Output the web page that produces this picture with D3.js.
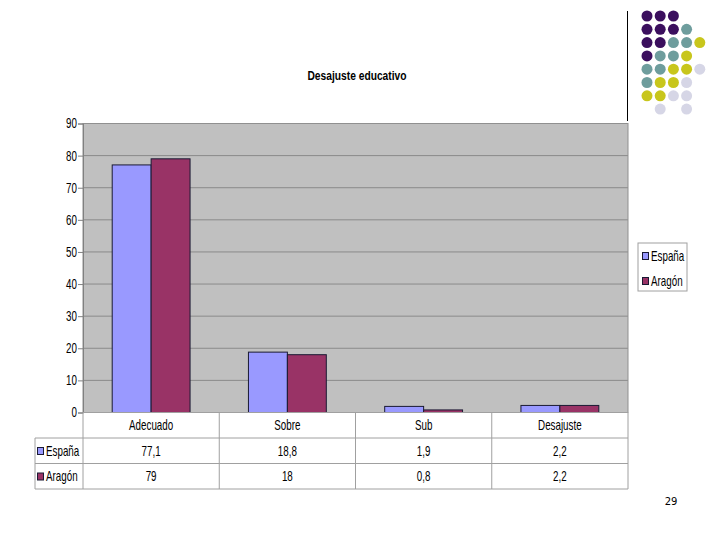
<!DOCTYPE html>
<meta charset="utf-8">
<style>
    body { margin: 0; background: #fff; }
    text { font-family: "Liberation Sans", Arial, sans-serif; }
</style>
<body>
<div id="chart"></div>
<script src="https://cdn.jsdelivr.net/npm/d3@7"></script>
<script>
    var categories = ["Adecuado", "Sobre", "Sub", "Desajuste"];
    var series = ["España", "Aragón"];
    var espana = [77.1, 18.8, 1.9, 2.2];
    var aragon = [79, 18, 0.8, 2.2];
    var espanaLabels = ["77,1", "18,8", "1,9", "2,2"];
    var aragonLabels = ["79", "18", "0,8", "2,2"];
    var yTicks = [0, 10, 20, 30, 40, 50, 60, 70, 80, 90];

    var colors = { "España": "#9999ff", "Aragón": "#993366" };

    // decorative dot grid (top right of the slide)
    var dotRows = [
        "PPP..",
        "PPPT.",
        "PPTTY",
        "PTTY.",
        "TTYYL",
        "TYYL.",
        "YYLL.",
        ".L.L."
    ];
    var dotColors = { P: "#3b0f5e", T: "#6e9d9d", Y: "#c8c61c", L: "#d6d6e6" };

    var width = 720, height = 540;
    var plotL = 83, plotR = 628, plotT = 123.5, plotB = 412.5;
    var squeeze = 0.7;

    // narrow the text horizontally around its anchor x (mimics Arial Narrow)
    function narrow(sel, k) {
        sel.attr("transform", function () {
            var x0 = +d3.select(this).attr("x");
            return "translate(" + x0 + ",0) scale(" + k + ",1) translate(" + (-x0) + ",0)";
        });
    }

    var svg = d3.select("#chart").append("svg")
        .attr("width", width)
        .attr("height", height);

    var x0 = d3.scaleBand().domain(categories).range([plotL, plotR]);
    var x1 = d3.scaleBand().domain(series).range([0, x0.bandwidth()]).paddingOuter(0.75);
    var y = d3.scaleLinear().domain([0, 90]).range([plotB, plotT]);

    // title
    svg.append("text")
        .attr("x", 357).attr("y", 80)
        .attr("text-anchor", "middle")
        .style("font-size", "12.5px")
        .style("font-weight", "bold")
        .text("Desajuste educativo")
        .call(narrow, 0.82);

    // plot background
    svg.append("rect")
        .attr("x", plotL).attr("y", plotT)
        .attr("width", plotR - plotL).attr("height", plotB - plotT)
        .attr("fill", "#c0c0c0");

    svg.append("g").selectAll("line")
        .data(yTicks.slice(1))
        .enter().append("line")
        .attr("x1", plotL).attr("x2", plotR)
        .attr("y1", function (d) { return y(d); })
        .attr("y2", function (d) { return y(d); })
        .attr("stroke", "#8a8a8a");

    svg.append("rect")
        .attr("x", plotL).attr("y", plotT)
        .attr("width", plotR - plotL).attr("height", plotB - plotT)
        .attr("fill", "none")
        .attr("stroke", "#909090");

    // y axis
    var yAxis = svg.append("g")
        .attr("transform", "translate(" + plotL + ",0)")
        .call(d3.axisLeft(y).tickValues(yTicks).tickSize(5).tickPadding(1));
    yAxis.select(".domain").attr("stroke", "#808080");
    yAxis.selectAll(".tick line").attr("stroke", "#808080");
    yAxis.selectAll("text")
        .style("font-size", "14px")
        .style("font-family", "\"Liberation Sans\", Arial, sans-serif")
        .attr("fill", "#000")
        .attr("transform", "translate(-6,0) scale(" + squeeze + ",1) translate(6,0)");

    // bars
    var data = categories.map(function (c, i) {
        return { cat: c, values: [{ s: "España", v: espana[i] }, { s: "Aragón", v: aragon[i] }] };
    });

    svg.append("g").selectAll("g")
        .data(data)
        .enter().append("g")
        .attr("transform", function (d) { return "translate(" + x0(d.cat) + ",0)"; })
        .selectAll("rect")
        .data(function (d) { return d.values; })
        .enter().append("rect")
        .attr("x", function (d) { return x1(d.s); })
        .attr("width", x1.bandwidth())
        .attr("y", function (d) { return y(d.v); })
        .attr("height", function (d) { return plotB - y(d.v); })
        .attr("fill", function (d) { return colors[d.s]; })
        .attr("stroke", "#1a1a33")
        .attr("stroke-width", 1);

    // data table
    var rowH = 25.5;
    var tableLeft = 35;
    var rowTop = [plotB, plotB + rowH, plotB + 2 * rowH, plotB + 3 * rowH];
    var grid = "#a0a0a0";

    var tbl = svg.append("g");
    tbl.append("line").attr("x1", plotL).attr("x2", plotR).attr("y1", rowTop[0]).attr("y2", rowTop[0]).attr("stroke", grid);
    [1, 2, 3].forEach(function (r) {
        tbl.append("line").attr("x1", tableLeft).attr("x2", plotR)
            .attr("y1", rowTop[r]).attr("y2", rowTop[r]).attr("stroke", grid);
    });
    tbl.append("line").attr("x1", tableLeft).attr("x2", tableLeft)
        .attr("y1", rowTop[1]).attr("y2", rowTop[3]).attr("stroke", grid);
    categories.forEach(function (c) {
        tbl.append("line").attr("x1", x0(c)).attr("x2", x0(c))
            .attr("y1", rowTop[0]).attr("y2", rowTop[3]).attr("stroke", grid);
    });
    tbl.append("line").attr("x1", plotR).attr("x2", plotR)
        .attr("y1", rowTop[0]).attr("y2", rowTop[3]).attr("stroke", grid);

    tbl.selectAll(".cat")
        .data(categories)
        .enter().append("text")
        .attr("x", function (d) { return x0(d) + x0.bandwidth() / 2; })
        .attr("y", rowTop[0] + 18)
        .attr("text-anchor", "middle")
        .style("font-size", "14px")
        .text(function (d) { return d; })
        .call(narrow, squeeze);

    [espanaLabels, aragonLabels].forEach(function (labels, r) {
        tbl.selectAll(".v" + r)
            .data(labels)
            .enter().append("text")
            .attr("x", function (d, i) { return x0(categories[i]) + x0.bandwidth() / 2; })
            .attr("y", rowTop[r + 1] + 18)
            .attr("text-anchor", "middle")
            .style("font-size", "14px")
            .text(function (d) { return d; })
            .call(narrow, squeeze);
    });

    series.forEach(function (s, r) {
        tbl.append("rect")
            .attr("x", 37.5).attr("y", rowTop[r + 1] + 9.5)
            .attr("width", 6).attr("height", 7)
            .attr("fill", colors[s]).attr("stroke", "#1a1a33");
        tbl.append("text")
            .attr("x", 46).attr("y", rowTop[r + 1] + 18)
            .style("font-size", "14px")
            .text(s)
            .call(narrow, squeeze);
    });

    // legend
    var lg = svg.append("g").attr("transform", "translate(638,243)");
    lg.append("rect").attr("width", 49).attr("height", 48)
        .attr("fill", "#fff").attr("stroke", "#a0a0a0");
    series.forEach(function (s, i) {
        lg.append("rect")
            .attr("x", 4.5).attr("y", 9.5 + i * 25)
            .attr("width", 6).attr("height", 7)
            .attr("fill", colors[s]).attr("stroke", "#1a1a33");
        lg.append("text")
            .attr("x", 13).attr("y", 18 + i * 25)
            .style("font-size", "14px")
            .text(s)
            .call(narrow, squeeze);
    });

    // slide decoration
    svg.append("line")
        .attr("x1", 627.5).attr("x2", 627.5).attr("y1", 11).attr("y2", 121)
        .attr("stroke", "#000").attr("stroke-width", 1);

    var dots = [];
    dotRows.forEach(function (row, r) {
        row.split("").forEach(function (ch, c) {
            if (ch !== ".") dots.push({ r: r, c: c, k: ch });
        });
    });
    svg.append("g").selectAll("circle")
        .data(dots)
        .enter().append("circle")
        .attr("cx", function (d) { return 647 + d.c * 13.2; })
        .attr("cy", function (d) { return 16 + d.r * 13.3; })
        .attr("r", 5.5)
        .attr("fill", function (d) { return dotColors[d.k]; });

    // page number
    svg.append("text")
        .attr("x", 671).attr("y", 505)
        .attr("text-anchor", "middle")
        .style("font-size", "10px")
        .style("font-family", "\"DejaVu Sans\", sans-serif")
        .text("29");
</script>
</body>
